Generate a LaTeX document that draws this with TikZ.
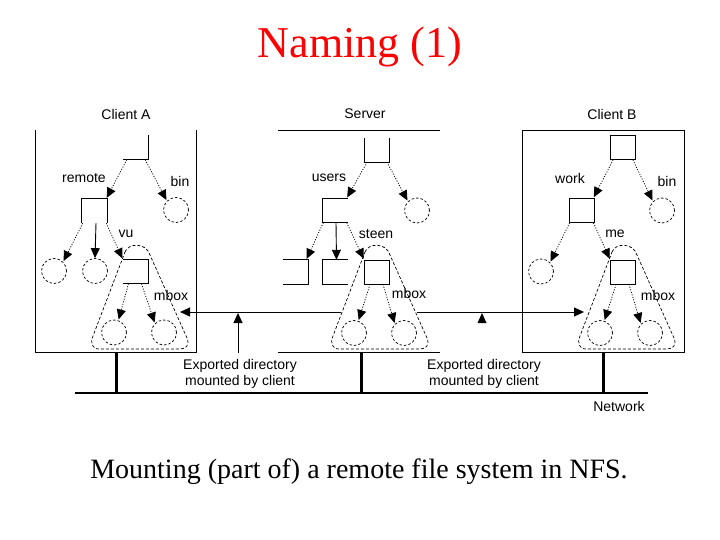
\documentclass[tikz,border=0pt]{standalone}
\usepackage{fontspec}
\setmainfont{Liberation Serif}
\newfontfamily\labfont{Liberation Sans}
\usetikzlibrary{arrows.meta}
\tikzset{
  dirbox/.style={minimum width=25pt, minimum height=24pt, inner sep=0pt, draw=none},
  fullbox/.style={dirbox, draw, line width=0.8pt},
  dcirc/.style={circle, minimum size=25pt, inner sep=0pt, draw, dash pattern=on 2.5pt off 2pt, line width=0.7pt},
  darr/.style={dash pattern=on 1pt off 1.6pt, line width=0.8pt, -{Triangle[length=10pt,width=9pt]}, shorten >=1pt},
  sarr/.style={line width=0.9pt, -{Triangle[length=10pt,width=9pt]}},
  lab/.style={font=\labfont\fontsize{14}{16}\selectfont, inner sep=0pt},
  edgeline/.style={line width=0.8pt},
  netline/.style={line width=2.6pt},
  outline/.style={dash pattern=on 3pt off 2pt, line width=0.7pt},
}
\newcommand{\mboxoutline}{%
  \draw[outline] (125,252) .. controls (128,243) and (146,242) .. (150,255)
    -- (187,338) .. controls (190,346) and (186,349) .. (178,349)
    -- (99,349) .. controls (92,349) and (90,343) .. (93,336) -- cycle;}
\begin{document}
\begin{tikzpicture}[x=1pt,y=-1pt]
\useasboundingbox (0,0) rectangle (720,540);

% title and caption
\node[text=red, font=\fontsize{44}{48}\selectfont, inner sep=0pt] (title) at (360,47) {Naming (1)};
\node[font=\fontsize{28}{32}\selectfont, inner sep=0pt] (caption) at (359,472) {Mounting (part of) a remote file system in NFS.};

% machine frames
\draw[edgeline] (35,130) -- (35,352) -- (196,352) -- (196,130);
\draw[edgeline] (278,130) -- (440,130);
\draw[edgeline] (278,352) -- (440,352);
\draw[edgeline] (522,130) rectangle (684,352);
\node[lab] (lA) at (126,114) {Client A};
\node[lab] (lS) at (365,114) {Server};
\node[lab] (lB) at (612,114) {Client B};

% ---------------- Client A ----------------
\node[dirbox] (rootA) at (135.5,147.5) {};
\node[dirbox] (remoteA) at (94.5,211) {};
\node[dirbox] (vuA) at (135.5,271.5) {};
\node[dcirc] (binA) at (176,210) {};
\node[dcirc] (cA1) at (54,271) {};
\node[dcirc] (cA2) at (95,271) {};
\node[dcirc] (mA1) at (114,332.5) {};
\node[dcirc] (mA2) at (164,332.5) {};
\draw[edgeline] (rootA.north east) -- (rootA.south east) -- (rootA.south west);
\draw[edgeline] (remoteA.south west) -- (remoteA.north west) -- (remoteA.north east) -- (remoteA.south east);
\draw[edgeline] (vuA.north west) -- (vuA.north east) -- (vuA.south east) -- (vuA.south west);
\draw[darr] ([xshift=4pt]rootA.south west) -- ([xshift=-1pt]remoteA.north east);
\draw[darr] ([xshift=-3pt]rootA.south east) -- (binA.north west);
\draw[darr] ([xshift=1pt]remoteA.south west) -- (cA1.north east);
\draw[sarr] ([xshift=1.5pt]remoteA.south) -- (cA2.north);
\draw[darr] ([xshift=-1pt]remoteA.south east) -- (vuA.north west);
\draw[darr] ([xshift=-7pt]vuA.south) -- (mA1.70);
\draw[darr] ([xshift=6pt]vuA.south) -- (mA2.north west);
\node[lab] (tremote) at (84,178) {remote};
\node[lab] (tbinA) at (180,181) {bin};
\node[lab] (tvu) at (126,234) {vu};
\node[lab] (tmboxA) at (171,295) {mbox};
\mboxoutline

% ---------------- Server ----------------
\node[dirbox] (rootS) at (377,150) {};
\node[dirbox] (usersS) at (335,210.5) {};
\node[dirbox] (s1) at (295.5,272) {};
\node[dirbox] (s2) at (335.5,272) {};
\node[fullbox] (steen) at (377,272) {};
\node[dcirc] (cS) at (417,210.5) {};
\node[dcirc] (mS1) at (354,333) {};
\node[dcirc] (mS2) at (404,333) {};
\draw[edgeline] (rootS.north west) -- (rootS.south west) -- (rootS.south east) -- (rootS.north east);
\draw[edgeline] (usersS.north east) -- (usersS.north west) -- (usersS.south west) -- (usersS.south east);
\draw[edgeline] (s1.north west) -- (s1.north east) -- (s1.south east) -- (s1.south west);
\draw[edgeline] (s2.north east) -- (s2.north west) -- (s2.south west) -- (s2.south east);
\draw[darr] ([xshift=-10pt]rootS.south) -- ([xshift=-1pt]usersS.north east);
\draw[darr] ([xshift=10pt]rootS.south) -- (cS.north west);
\draw[darr] ([xshift=1pt]usersS.south west) -- ([xshift=-2pt]s1.north east);
\draw[sarr] ([xshift=1pt]usersS.south) -- ([xshift=1pt]s2.north);
\draw[darr] ([xshift=-1pt]usersS.south east) -- (steen.north west);
\draw[darr] ([xshift=-7pt]steen.south) -- (mS1.70);
\draw[darr] ([xshift=6pt]steen.south) -- (mS2.north west);
\node[lab] (tusers) at (329,178) {users};
\node[lab] (tsteen) at (376,234) {steen};
\node[lab] (tmboxS) at (409,293) {mbox};
\begin{scope}[xshift=240pt]\mboxoutline\end{scope}

% ---------------- Client B ----------------
\node[fullbox] (rootB) at (623,147.5) {};
\node[fullbox] (workB) at (581.5,210.5) {};
\node[fullbox] (meB) at (623,272) {};
\node[dcirc] (binB) at (662,210.5) {};
\node[dcirc] (cB) at (541,271.5) {};
\node[dcirc] (mB1) at (600,333) {};
\node[dcirc] (mB2) at (650,333) {};
\draw[darr] ([xshift=3pt]rootB.south west) -- ([xshift=-1pt]workB.north east);
\draw[darr] ([xshift=-3pt]rootB.south east) -- (binB.north west);
\draw[darr] ([xshift=1pt]workB.south west) -- (cB.north east);
\draw[darr] ([xshift=-1pt]workB.south east) -- (meB.north west);
\draw[darr] ([xshift=-7pt]meB.south) -- (mB1.70);
\draw[darr] ([xshift=6pt]meB.south) -- (mB2.north west);
\node[lab] (twork) at (570,178) {work};
\node[lab] (tbinB) at (667,181) {bin};
\node[lab] (tme) at (615,234) {me};
\node[lab] (tmboxB) at (658,295) {mbox};
\begin{scope}[xshift=487pt]\mboxoutline\end{scope}

% ---------------- mounts ----------------
\coordinate (mtA) at (180,312);
\coordinate (mtSl) at (341,312);
\coordinate (mtSr) at (417,312);
\coordinate (mtB) at (584,312);
\draw[sarr] (mtSl) -- (mtA);
\draw[sarr] (mtSr) -- (mtB);
\coordinate (eA) at (238,353);
\coordinate (eAt) at (238,313);
\draw[sarr] (eA) -- (eAt);
\fill (477.5,323) -- (482,313) -- (486.5,323) -- cycle;
\node[lab, align=center] (exA) at (240,374) {Exported directory\\mounted by client};
\node[lab, align=center] (exB) at (484,374) {Exported directory\\mounted by client};

% ---------------- network ----------------
\coordinate (nL) at (75,393);
\coordinate (nR) at (648,393);
\draw[netline] (nL) -- (nR);
\draw[line width=3pt] (116,352) -- (116,393);
\draw[line width=3pt] (361,352) -- (361,393);
\draw[line width=3pt] (603,352) -- (603,393);
\node[lab] (tnet) at (619,406) {Network};
\end{tikzpicture}
\end{document}
